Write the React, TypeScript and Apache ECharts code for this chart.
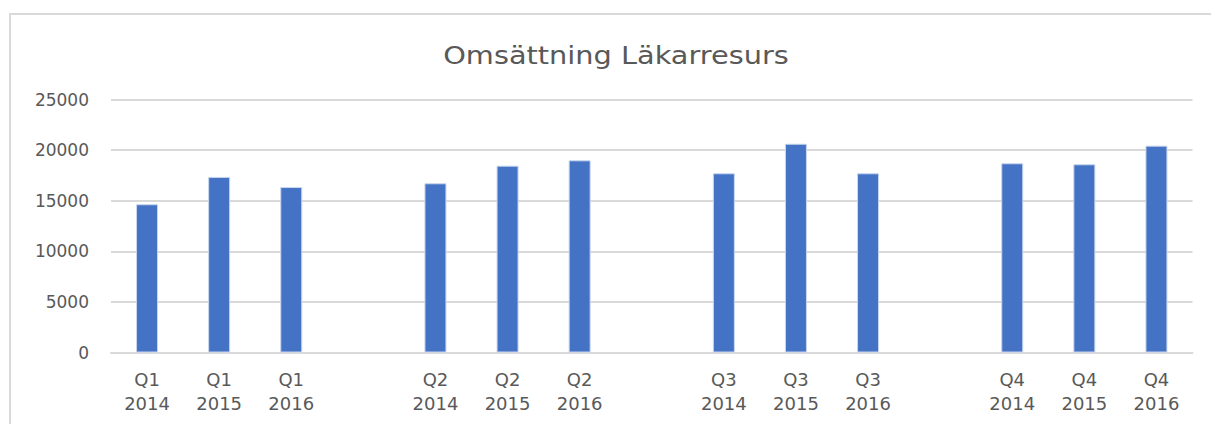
import React, { useEffect, useRef } from "react";
import * as echarts from "echarts";

const titleText = "Omsättning Läkarresurs";
const categories = [
  "Q1\n2014", "Q1\n2015", "Q1\n2016", "",
  "Q2\n2014", "Q2\n2015", "Q2\n2016", "",
  "Q3\n2014", "Q3\n2015", "Q3\n2016", "",
  "Q4\n2014", "Q4\n2015", "Q4\n2016",
];
const values: (number | null)[] = [
  14650, 17350, 16350, null,
  16720, 18460, 18990, null,
  17710, 20630, 17710, null,
  18700, 18600, 20440,
];
const yMin = 0;
const yMax = 25000;
const yInterval = 5000;

const FONT = "DejaVu Sans";
const TEXT = "#595959";
const GRID = "#d9d9d9";

export default function App() {
  const ref = useRef<HTMLDivElement>(null);
  useEffect(() => {
    if (!ref.current) return;
    const chart = echarts.init(ref.current, null, { renderer: "svg" });
    chart.setOption({
      animation: false,
      backgroundColor: "#ffffff",
      graphic: [
        {
          type: "rect",
          silent: true,
          shape: { x: 10, y: 14, width: 1400, height: 600 },
          style: { fill: "none", stroke: GRID, lineWidth: 2 },
        },
        {
          type: "text",
          x: 616,
          y: 55,
          scaleX: 1.2,
          style: {
            text: titleText,
            fontFamily: FONT,
            fontSize: 24,
            fill: TEXT,
            align: "center",
            verticalAlign: "middle",
          },
        },
      ],
      grid: { left: 111, right: 18.5, top: 99.5, bottom: 71.5, containLabel: false },
      xAxis: {
        type: "category",
        data: categories,
        axisTick: { show: false },
        axisLine: { lineStyle: { color: GRID, width: 2 } },
        axisLabel: {
          interval: 0,
          color: TEXT,
          fontFamily: FONT,
          fontSize: 18,
          lineHeight: 24,
          margin: 15,
        },
      },
      yAxis: {
        type: "value",
        min: yMin,
        max: yMax,
        interval: yInterval,
        axisLine: { show: false },
        axisTick: { show: false },
        splitLine: { lineStyle: { color: GRID, width: 2 } },
        axisLabel: {
          color: TEXT,
          fontFamily: FONT,
          fontSize: 17,
          margin: 22,
          formatter: (v: number) => String(v),
        },
      },
      series: [
        {
          type: "bar",
          data: values,
          barWidth: 22,
          itemStyle: { color: "#4472C4", borderColor: "#c9d6ef", borderWidth: 1 },
        },
      ],
    });
    return () => chart.dispose();
  }, []);
  return (
    <div
      ref={ref}
      style={{ position: "fixed", left: 0, top: 0, width: 1211, height: 424 }}
    />
  );
}
